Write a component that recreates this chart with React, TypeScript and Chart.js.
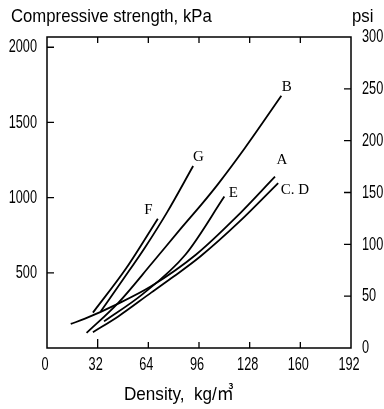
import React, { useEffect, useRef } from "react";
import { Chart, registerables } from "chart.js";

Chart.register(...registerables);

// ---- data ----
const densityTicks = [0, 32, 64, 96, 128, 160, 192];
const kPaTicks = [500, 1000, 1500, 2000];
const psiTicks = [0, 50, 100, 150, 200, 250, 300];

const curveA_density = [15, 24, 45, 66, 94, 119, 144];
const curveA_kPa = [160, 195, 295, 412, 620, 865, 1140];

const curveB_density = [25, 45, 66, 85, 98, 108, 125, 148];
const curveB_kPa = [100, 300, 560, 800, 960, 1090, 1330, 1677];

const curveCD_density = [29, 45, 66, 80, 97, 121, 146];
const curveCD_kPa = [105, 210, 370, 475, 610, 835, 1097];

const curveE_density = [36, 60, 87.5, 112];
const curveE_kPa = [177, 355, 622, 1007];

const curveF_density = [29, 50, 70];
const curveF_kPa = [235, 530, 860];

const curveG_density = [34, 48, 62, 76, 92.3];
const curveG_kPa = [244, 455, 670, 905, 1210];

const curveNames = ["A", "B", "C. D", "E", "F", "G"];
const curveDensities = [curveA_density, curveB_density, curveCD_density, curveE_density, curveF_density, curveG_density];
const curveValues = [curveA_kPa, curveB_kPa, curveCD_kPa, curveE_kPa, curveF_kPa, curveG_kPa];

// label anchors (data units)
const labelDensity = [148.3, 151.4, 147.6, 117.7, 64, 95.6];
const labelKPa = [1250, 1737, 1050, 1029, 918, 1272];
const labelAlign = ["center", "center", "left", "center", "center", "center"];

const KPA_MAX = 2068; // = 300 psi

const SANS = '"Liberation Sans", Arial, sans-serif';
const SERIF = '"Liberation Serif", "DejaVu Serif", serif';

function narrowText(ctx: CanvasRenderingContext2D, text: string, x: number, y: number, align: CanvasTextAlign, squeeze: number) {
  ctx.save();
  ctx.translate(x, y);
  ctx.scale(squeeze, 1);
  ctx.textAlign = align;
  ctx.fillText(text, 0, 0);
  ctx.restore();
}

const decorations = {
  id: "decorations",
  afterDraw(chart: any) {
    const { ctx, chartArea: ca, scales } = chart;
    const sx = scales.x;
    const sy = scales.y;
    const sy2 = scales.y2;
    ctx.save();
    ctx.strokeStyle = "#000";
    ctx.lineWidth = 1.5;
    ctx.strokeRect(ca.left, ca.top, ca.right - ca.left, ca.bottom - ca.top);

    ctx.lineWidth = 1.3;
    ctx.beginPath();
    densityTicks.forEach((v) => {
      if (v === 0 || v === 192) return;
      const px = sx.getPixelForValue(v);
      ctx.moveTo(px, ca.bottom);
      ctx.lineTo(px, ca.bottom - (v === 32 ? 9 : 6));
      ctx.moveTo(px, ca.top);
      ctx.lineTo(px, ca.top + 6);
    });
    kPaTicks.forEach((v) => {
      const py = sy.getPixelForValue(v);
      ctx.moveTo(ca.left, py);
      ctx.lineTo(ca.left + 7, py);
    });
    psiTicks.forEach((v) => {
      if (v === 0 || v === 300) return;
      const py = sy2.getPixelForValue(v);
      ctx.moveTo(ca.right, py);
      ctx.lineTo(ca.right - 7, py);
    });
    ctx.stroke();

    ctx.fillStyle = "#000";
    ctx.textBaseline = "middle";

    // tick labels
    ctx.font = `19px ${SANS}`;
    kPaTicks.forEach((v) => narrowText(ctx, String(v), ca.left - 10, sy.getPixelForValue(v), "right", 0.67));
    psiTicks.forEach((v) => narrowText(ctx, String(v), ca.right + 11, sy2.getPixelForValue(v), "left", 0.67));
    densityTicks.forEach((v) => narrowText(ctx, String(v), sx.getPixelForValue(v) - 2, ca.bottom + 17, "center", 0.67));

    // titles
    ctx.font = `19px ${SANS}, "Noto Sans CJK JP"`;
    narrowText(ctx, "Compressive strength, kPa", 11, 17, "left", 0.88);
    narrowText(ctx, "psi", 352, 17, "left", 0.88);
    narrowText(ctx, "Density,  kg/\u33A5", 124, 395, "left", 0.9);

    // curve labels
    ctx.font = `15px ${SERIF}`;
    curveNames.forEach((name, i) => {
      ctx.textAlign = labelAlign[i] as CanvasTextAlign;
      ctx.fillText(name, sx.getPixelForValue(labelDensity[i]), sy.getPixelForValue(labelKPa[i]));
    });
    ctx.restore();
  },
};

export default function App() {
  const ref = useRef<HTMLCanvasElement | null>(null);
  useEffect(() => {
    if (!ref.current) return;
    const datasets = curveNames.map((name, i) => ({
      label: name,
      data: curveDensities[i].map((d, j) => ({ x: d, y: curveValues[i][j] })),
      showLine: true,
      borderColor: "#000",
      backgroundColor: "#000",
      borderWidth: 1.8,
      pointRadius: 0,
      cubicInterpolationMode: "monotone" as const,
      xAxisID: "x",
      yAxisID: "y",
    }));
    const chart = new Chart(ref.current, {
      type: "scatter",
      data: { datasets },
      options: {
        animation: false,
        responsive: false,
        layout: { padding: { top: 37, left: 0, right: 0, bottom: 0 } },
        plugins: { legend: { display: false }, tooltip: { enabled: false } },
        scales: {
          x: {
            type: "linear",
            position: "bottom",
            min: 0,
            max: 192,
            afterBuildTicks: (s: any) => {
              s.ticks = densityTicks.map((v) => ({ value: v }));
            },
            afterFit: (s: any) => {
              s.height = 61;
            },
            grid: { display: false, drawTicks: false },
            border: { display: false },
            ticks: { display: false },
          },
          y: {
            type: "linear",
            position: "left",
            min: 0,
            max: KPA_MAX,
            afterBuildTicks: (s: any) => {
              s.ticks = kPaTicks.map((v) => ({ value: v }));
            },
            afterFit: (s: any) => {
              s.width = 47;
            },
            grid: { display: false, drawTicks: false },
            border: { display: false },
            ticks: { display: false },
          },
          y2: {
            type: "linear",
            position: "right",
            min: 0,
            max: 300,
            afterBuildTicks: (s: any) => {
              s.ticks = psiTicks.map((v) => ({ value: v }));
            },
            afterFit: (s: any) => {
              s.width = 33;
            },
            grid: { display: false, drawTicks: false },
            border: { display: false },
            ticks: { display: false },
          },
        },
      },
      plugins: [decorations],
    });
    return () => chart.destroy();
  }, []);
  return (
    <div style={{ position: "absolute", left: 0, top: 0, width: 384, height: 409, background: "#fff" }}>
      <canvas ref={ref} width={384} height={409} />
    </div>
  );
}
